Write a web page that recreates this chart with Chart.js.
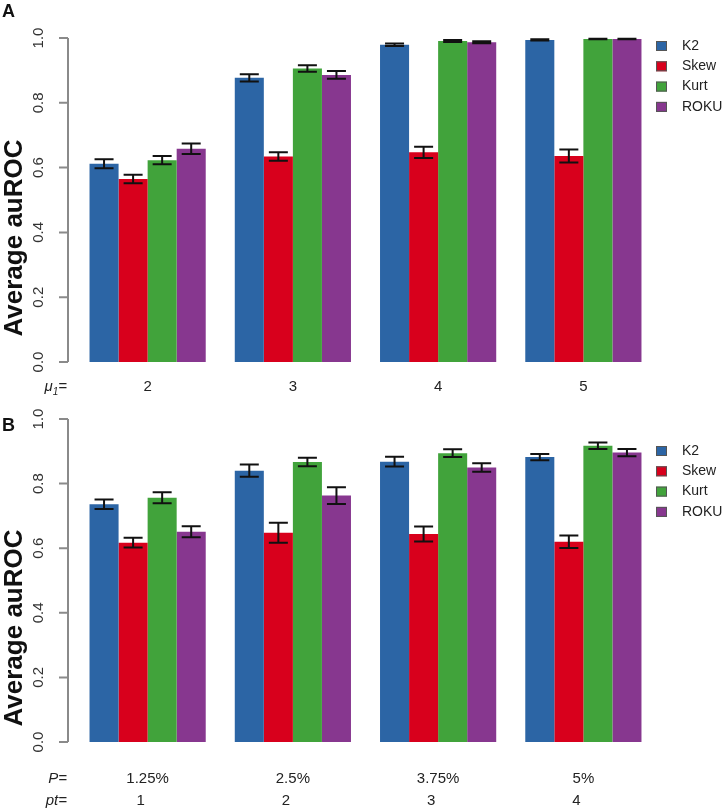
<!DOCTYPE html>
<html>
<head>
<meta charset="utf-8">
<script src="https://cdn.jsdelivr.net/npm/chart.js@4.4.1/dist/chart.umd.min.js"></script>
<style>
  body { margin: 0; background: #fff; }
  canvas { display: block; }
</style>
</head>
<body>
<canvas id="chartA" width="722" height="400"></canvas>
<canvas id="chartB" width="722" height="412"></canvas>
<script>
// methods and tick labels
const methods = ['K2', 'Skew', 'Kurt', 'ROKU'];
const yTicks = [0, 0.2, 0.4, 0.6, 0.8, 1.0];

// panel A: mu1
const muLabels = ['2', '3', '4', '5'];
const aK2 = [0.612, 0.877, 0.979, 0.994];
const aSkew = [0.565, 0.634, 0.647, 0.636];
const aKurt = [0.623, 0.906, 0.991, 0.997];
const aRoku = [0.658, 0.886, 0.987, 0.997];
const aK2Err = [0.014, 0.011, 0.004, 0.002];
const aSkewErr = [0.013, 0.013, 0.017, 0.020];
const aKurtErr = [0.013, 0.010, 0.003, 0.001];
const aRokuErr = [0.016, 0.012, 0.003, 0.001];

// panel B: P and pt
const pLabels = ['1.25%', '2.5%', '3.75%', '5%'];
const ptLabels = ['1', '2', '3', '4'];
const bK2 = [0.736, 0.840, 0.868, 0.882];
const bSkew = [0.617, 0.648, 0.644, 0.620];
const bKurt = [0.756, 0.867, 0.894, 0.917];
const bRoku = [0.651, 0.763, 0.850, 0.896];
const bK2Err = [0.015, 0.019, 0.015, 0.010];
const bSkewErr = [0.015, 0.031, 0.023, 0.019];
const bKurtErr = [0.017, 0.013, 0.012, 0.010];
const bRokuErr = [0.017, 0.026, 0.013, 0.011];

const colors = ['#2c65a5', '#d8001c', '#41a33b', '#87378f'];
const FONT = '"Liberation Sans", Arial, sans-serif';

// per-canvas decoration settings (kept outside chart options so they stay plain objects)
const panelSetup = {
    chartA: {
        letter: 'A', letterY: 12, titleY: 238, legendY: 46,
        rows: [{ name: 'μ', sub: '1', labels: muLabels, y: 387, dx: 0 }]
    },
    chartB: {
        letter: 'B', letterY: 26, titleY: 228, legendY: 51,
        rows: [
            { name: 'P', sub: '', labels: pLabels, y: 379, dx: 0 },
            { name: 'pt', sub: '', labels: ptLabels, y: 401, dx: -7 }
        ]
    }
};

function makeDatasets(means, errs) {
    return methods.map((m, i) => ({
        label: m,
        data: means[i],
        errors: errs[i],
        backgroundColor: colors[i],
        borderWidth: 0,
        categoryPercentage: 0.8,
        barPercentage: 1.0
    }));
}

// R-style axis, labels, legend and error bars
const paperStyle = {
    id: 'paperStyle',
    afterDatasetsDraw(chart) {
        const ctx = chart.ctx;
        const y = chart.scales.y;
        ctx.save();
        ctx.strokeStyle = '#111';
        ctx.lineWidth = 2;
        chart.data.datasets.forEach((ds, di) => {
            const meta = chart.getDatasetMeta(di);
            meta.data.forEach((bar, i) => {
                const v = ds.data[i];
                const e = ds.errors[i];
                const t = y.getPixelForValue(v + e);
                const b = y.getPixelForValue(v - e);
                const half = 9.5;
                ctx.beginPath();
                ctx.moveTo(bar.x, t);
                ctx.lineTo(bar.x, b);
                ctx.moveTo(bar.x - half, t);
                ctx.lineTo(bar.x + half, t);
                ctx.moveTo(bar.x - half, b);
                ctx.lineTo(bar.x + half, b);
                ctx.stroke();
            });
        });
        ctx.restore();
    },
    afterDraw(chart) {
        const opts = panelSetup[chart.canvas.id];
        const ctx = chart.ctx;
        const x = chart.scales.x;
        const y = chart.scales.y;
        const axisX = 68;
        ctx.save();

        // y axis
        ctx.strokeStyle = '#8a8a8a';
        ctx.lineWidth = 2;
        ctx.beginPath();
        ctx.moveTo(axisX, y.getPixelForValue(yTicks[0]));
        ctx.lineTo(axisX, y.getPixelForValue(yTicks[yTicks.length - 1]));
        yTicks.forEach(t => {
            const py = y.getPixelForValue(t);
            ctx.moveTo(axisX, py);
            ctx.lineTo(axisX - 9, py);
        });
        ctx.stroke();

        ctx.fillStyle = '#333';
        ctx.font = '15px ' + FONT;
        ctx.textAlign = 'center';
        ctx.textBaseline = 'middle';
        yTicks.forEach(t => {
            const py = y.getPixelForValue(t);
            ctx.save();
            ctx.translate(39, py);
            ctx.rotate(-Math.PI / 2);
            ctx.fillText(t.toFixed(1), 0, 0);
            ctx.restore();
        });

        // axis title
        ctx.fillStyle = '#111';
        ctx.font = 'bold 26px ' + FONT;
        ctx.save();
        ctx.translate(15, opts.titleY);
        ctx.rotate(-Math.PI / 2);
        ctx.fillText('Average auROC', 0, 0);
        ctx.restore();

        // panel letter
        ctx.font = 'bold 18px ' + FONT;
        ctx.textAlign = 'left';
        ctx.fillText(opts.letter, 2, opts.letterY);

        // category rows
        opts.rows.forEach(row => {
            ctx.fillStyle = '#222';
            ctx.font = '15px ' + FONT;
            ctx.textAlign = 'center';
            row.labels.forEach((lab, i) => {
                ctx.fillText(lab, x.getPixelForValue(i) + row.dx, row.y);
            });
            // row name, italic, right aligned
            ctx.font = 'italic 15px ' + FONT;
            ctx.textAlign = 'right';
            let rx = 67;
            ctx.fillText('=', rx, row.y);
            rx -= ctx.measureText('=').width;
            if (row.sub) {
                ctx.font = 'italic 10px ' + FONT;
                ctx.fillText(row.sub, rx, row.y + 5);
                rx -= ctx.measureText(row.sub).width;
                ctx.font = 'italic 15px ' + FONT;
            }
            ctx.fillText(row.name, rx, row.y);
        });

        // legend
        ctx.font = '14px ' + FONT;
        ctx.textAlign = 'left';
        chart.data.datasets.forEach((ds, i) => {
            const ly = opts.legendY + i * 20.3;
            ctx.fillStyle = ds.backgroundColor;
            ctx.fillRect(656, ly - 5, 11, 10);
            ctx.strokeStyle = '#555';
            ctx.lineWidth = 1;
            ctx.strokeRect(656.5, ly - 4.5, 10, 9);
            ctx.fillStyle = '#222';
            ctx.fillText(ds.label, 682, ly);
        });

        ctx.restore();
    }
};

function makeChart(id, labels, datasets, padding) {
    return new Chart(document.getElementById(id), {
        type: 'bar',
        data: { labels: labels, datasets: datasets },
        options: {
            responsive: false,
            animation: false,
            devicePixelRatio: 1,
            layout: { padding: padding },
            scales: {
                x: { display: false, offset: true },
                y: { display: false, min: 0, max: 1 }
            },
            plugins: {
                legend: { display: false },
                tooltip: { enabled: false }
            }
        },
        plugins: [paperStyle]
    });
}

makeChart('chartA', muLabels,
    makeDatasets([aK2, aSkew, aKurt, aRoku], [aK2Err, aSkewErr, aKurtErr, aRokuErr]),
    { left: 75, right: 66, top: 38, bottom: 38 });

makeChart('chartB', pLabels,
    makeDatasets([bK2, bSkew, bKurt, bRoku], [bK2Err, bSkewErr, bKurtErr, bRokuErr]),
    { left: 75, right: 66, top: 19, bottom: 70 });
</script>
</body>
</html>
